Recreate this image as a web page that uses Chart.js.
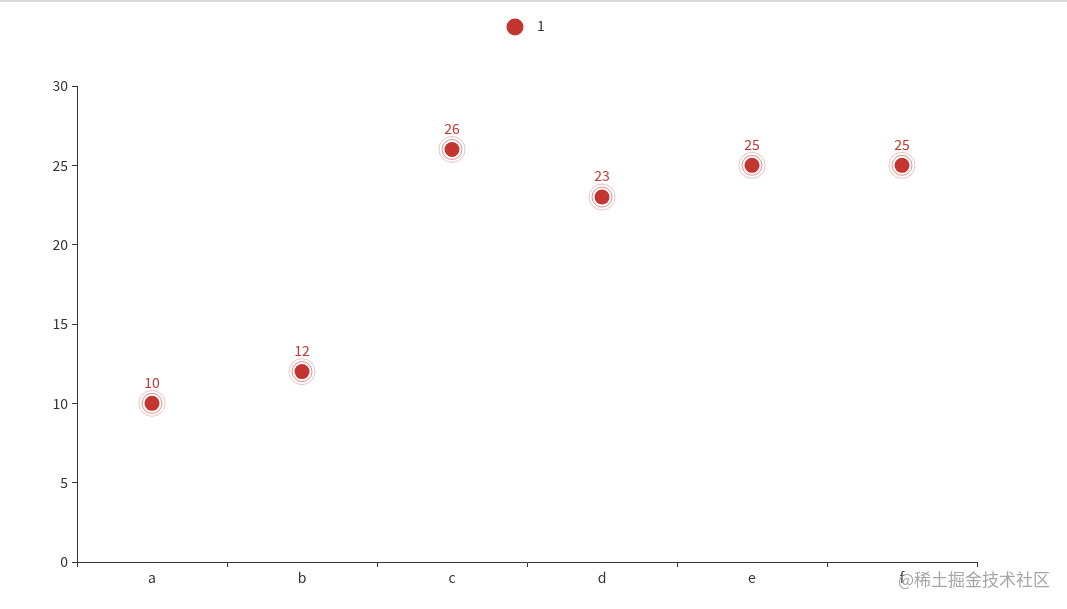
<!DOCTYPE html>
<html><head><meta charset="utf-8">
<script src="https://cdn.jsdelivr.net/npm/chart.js@4/dist/chart.umd.min.js"></script>
<style>html,body{margin:0;padding:0;background:#fff;}#wrap{width:1067px;height:609px;position:relative;}</style>
</head><body><div id="wrap"><canvas id="c" width="1067" height="609"></canvas></div>
<script>
const categories = ['a','b','c','d','e','f'];
const values = [10, 12, 26, 23, 25, 25];
const seriesName = '1';
const yTicks = [0,5,10,15,20,25,30];
const RED = '#c23531';
const FONT = '"Noto Sans CJK SC", "Noto Sans", sans-serif';

const deco = {
  id: 'deco',
  beforeDraw(chart) {
    const ctx = chart.ctx;
    ctx.save();
    ctx.strokeStyle = '#d9d9d9'; ctx.lineWidth = 2;
    ctx.beginPath(); ctx.moveTo(0, 1); ctx.lineTo(1067, 1); ctx.stroke();
    // legend
    ctx.fillStyle = RED;
    ctx.beginPath(); ctx.arc(515, 27, 8.5, 0, Math.PI*2); ctx.fill();
    ctx.fillStyle = '#333'; ctx.font = '14px ' + FONT;
    ctx.textBaseline = 'middle'; ctx.textAlign = 'left';
    ctx.fillText(seriesName, 537, 26);
    ctx.restore();
  },
  afterDatasetsDraw(chart) {
    const ctx = chart.ctx;
    const meta = chart.getDatasetMeta(0);
    ctx.save();
    meta.data.forEach((pt, i) => {
      const x = pt.x, y = pt.y;
      ctx.strokeStyle = 'rgba(194,53,49,0.55)'; ctx.lineWidth = 1;
      ctx.beginPath(); ctx.arc(x, y, 10, 0, Math.PI*2); ctx.stroke();
      ctx.strokeStyle = 'rgba(194,53,49,0.3)';
      ctx.beginPath(); ctx.arc(x, y, 13, 0, Math.PI*2); ctx.stroke();
      ctx.fillStyle = RED; ctx.font = '14px ' + FONT;
      ctx.textAlign = 'center'; ctx.textBaseline = 'middle';
      ctx.fillText(String(values[i]), x, y - 21);
    });
    // watermark
    ctx.fillStyle = 'rgba(150,150,150,0.85)';
    ctx.font = '17px ' + FONT; ctx.textAlign = 'right'; ctx.textBaseline = 'middle';
    ctx.fillText('@稀土掘金技术社区', 1050, 580);
    ctx.restore();
  }
};

new Chart(document.getElementById('c'), {
  type: 'line',
  data: {
    labels: categories,
    datasets: [{
      label: seriesName,
      data: values,
      showLine: false,
      pointRadius: 7.5,
      pointHoverRadius: 7.5,
      pointBackgroundColor: RED,
      pointBorderColor: RED,
      pointBorderWidth: 0
    }]
  },
  options: {
    responsive: false,
    animation: false,
    events: [],
    layout: { padding: { left: 0, right: 90, top: 86, bottom: 0 } },
    plugins: { legend: { display: false }, tooltip: { enabled: false } },
    scales: {
      x: {
        type: 'category',
        offset: true,
        grid: { display: true, drawOnChartArea: false, drawTicks: true, tickLength: 5, color: '#333', offset: true },
        border: { display: true, color: '#333', width: 1 },
        ticks: { color: '#333', font: { size: 14, family: FONT }, padding: 2, maxRotation: 0 },
        afterFit(s) { s.height = 47; }
      },
      y: {
        min: 0, max: 30,
        afterBuildTicks(s) { s.ticks = yTicks.map(v => ({ value: v })); },
        grid: { display: true, drawOnChartArea: false, drawTicks: true, tickLength: 5, color: '#333' },
        border: { display: true, color: '#333', width: 1 },
        ticks: { color: '#333', font: { size: 14, family: FONT }, padding: 4 },
        afterFit(s) { s.width = 77; }
      }
    }
  },
  plugins: [deco]
});
</script>
</body></html>
